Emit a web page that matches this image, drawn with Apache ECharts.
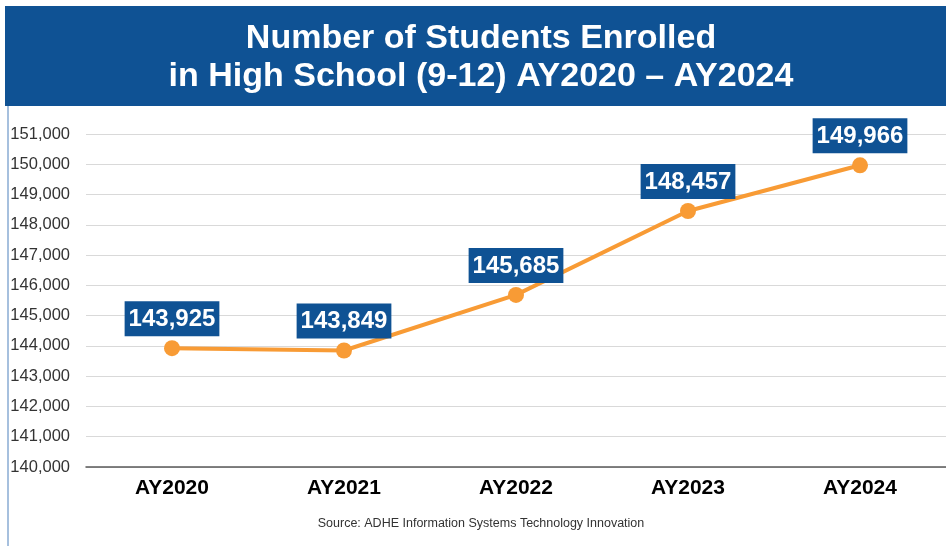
<!DOCTYPE html>
<html><head><meta charset="utf-8">
<script src="https://cdn.jsdelivr.net/npm/echarts@6/dist/echarts.min.js"></script>
<style>html,body{margin:0;padding:0;background:#fff}#c{width:946px;height:546px}</style>
</head><body><div id="c"></div>
<script>
const categories = ['AY2020','AY2021','AY2022','AY2023','AY2024'];
const enrolled = [143925, 143849, 145685, 148457, 149966];
const titleLines = ['Number of Students Enrolled', 'in High School (9-12) AY2020 \u2013 AY2024'];
const sourceText = 'Source: ADHE Information Systems Technology Innovation';

const chart = echarts.init(document.getElementById('c'));
chart.setOption({
  backgroundColor: '#fff',
  animation: false,
  graphic: [
    {type:'rect', shape:{x:5, y:6, width:941, height:100}, style:{fill:'#0f5294'}},
    {type:'line', shape:{x1:8, y1:106, x2:8, y2:546}, style:{stroke:'#4f81bd', lineWidth:1}},
    {type:'text', x:481, y:20, style:{text:titleLines.join('\n'), fill:'#fff', font:'bold 34px "Liberation Sans", Arial, sans-serif', align:'center', verticalAlign:'top', lineHeight:38}},
    {type:'text', x:481, y:517, style:{text:sourceText, fill:'#333', font:'12.5px "Liberation Sans", Arial, sans-serif', align:'center', verticalAlign:'top'}}
  ],
  grid: {left:86, top:134, width:865, bottom:79, containLabel:false},
  xAxis: {
    type:'category', data:categories, boundaryGap:true,
    axisLine:{show:true, lineStyle:{color:'#595959', width:1.5}},
    axisTick:{show:false},
    axisLabel:{color:'#000', fontWeight:'bold', fontSize:21, fontFamily:'"Liberation Sans", Arial, sans-serif', margin:11}
  },
  yAxis: {
    type:'value', min:140000, max:151000, interval:1000,
    axisLine:{show:false}, axisTick:{show:false},
    splitLine:{lineStyle:{color:'#d9d9d9', width:1}},
    axisLabel:{color:'#333', fontSize:16.5, fontFamily:'"Liberation Sans", Arial, sans-serif', margin:16,
      formatter: v => v.toLocaleString('en-US')}
  },
  series: [{
    type:'line', data:enrolled,
    lineStyle:{color:'#f89b35', width:4},
    itemStyle:{color:'#f89b35'},
    symbol:'circle', symbolSize:16,
    label:{show:true, position:'top', distance:4,
      formatter: p => p.value.toLocaleString('en-US'),
      color:'#fff', backgroundColor:'#0f5294', fontWeight:'bold', fontSize:24,
      fontFamily:'"Liberation Sans", Arial, sans-serif', padding:[6,4,5,4]}
  }]
});
</script></body></html>
